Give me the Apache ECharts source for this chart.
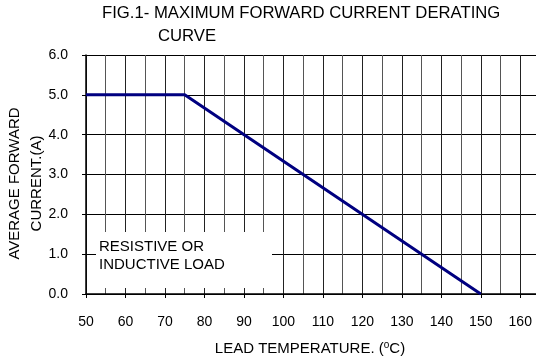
<!DOCTYPE html>
<html>
<head>
<meta charset="utf-8">
<script src="https://cdn.jsdelivr.net/npm/echarts@6/dist/echarts.min.js"></script>
<style>
html,body{margin:0;padding:0;background:#fff;}
#c{width:536px;height:363px;}
</style>
</head>
<body>
<div id="c"></div>
<script>
// Data
const temperature = [50, 75, 150];          // lead temperature (°C)
const current = [5.0, 5.0, 0.0];            // average forward current (A)
const yTickLabels = ['0.0','1.0','2.0','3.0','4.0','5.0','6.0'];
const titleLine1 = 'FIG.1- MAXIMUM FORWARD CURRENT DERATING';
const titleLine2 = 'CURVE';
const noteLines = ['RESISTIVE OR', 'INDUCTIVE LOAD'];

const FONT = '"Liberation Sans", Arial, sans-serif';
const chart = echarts.init(document.getElementById('c'), null, {renderer: 'canvas'});

const seriesData = temperature.map((t, i) => [t, current[i]]);

chart.setOption({
  animation: false,
  backgroundColor: '#ffffff',
  textStyle: {fontFamily: FONT},
  title: [
    {text: titleLine1, left: 102, top: 5, padding: 0,
     textStyle: {fontFamily: FONT, fontSize: 16.7, fontWeight: 'normal', color: '#000'}},
    {text: titleLine2, left: 158, top: 28, padding: 0,
     textStyle: {fontFamily: FONT, fontSize: 16.7, fontWeight: 'normal', color: '#000'}}
  ],
  grid: {left: 86, top: 55, right: -4, bottom: 69, containLabel: false, outerBoundsMode: 'none'},
  xAxis: {
    type: 'value', min: 50, max: 165, interval: 10,
    name: 'LEAD TEMPERATURE. ({sup|o}C)',
    nameLocation: 'middle', nameGap: 46, nameMoveOverlap: false,
    nameTextStyle: {fontFamily: FONT, fontSize: 15, color: '#000', padding: [0, 6, 0, 0],
      rich: {sup: {fontSize: 10, verticalAlign: 'top', padding: [0,0,7,0], fontFamily: FONT, color: '#000'}}},
    axisLine: {show: true, onZero: false, lineStyle: {color: '#000', width: 1.5}},
    axisTick: {show: true, inside: false, length: 4, lineStyle: {color: '#000'}},
    axisLabel: {fontFamily: FONT, fontSize: 14, color: '#000', margin: 21,
      showMaxLabel: false},
    splitLine: {show: true, lineStyle: {color: '#222', width: 1}},
    minorTick: {show: false, splitNumber: 2},
    minorSplitLine: {show: true, lineStyle: {color: '#555', width: 1}}
  },
  yAxis: {
    type: 'value', min: 0, max: 6, interval: 1,
    name: 'AVERAGE FORWARD\nCURRENT.(A)',
    nameLocation: 'middle', nameGap: 38, nameRotate: 90, nameMoveOverlap: false,
    nameTextStyle: {fontFamily: FONT, fontSize: 15, color: '#000', lineHeight: 22, align: 'center',
      padding: [0, 18, 0, 0]},
    axisLine: {show: true, lineStyle: {color: '#000', width: 1.5}},
    axisTick: {show: true, inside: false, length: 4, lineStyle: {color: '#000'}},
    axisLabel: {fontFamily: FONT, fontSize: 14, color: '#000', margin: 18,
      formatter: (v) => yTickLabels[Math.round(v)]},
    splitLine: {show: true, lineStyle: {color: '#000', width: 1}}
  },
  series: [{
    type: 'line', data: seriesData, showSymbol: false, symbol: 'none',
    lineStyle: {color: '#000080', width: 3}, z: 5
  }],
  graphic: [
    {type: 'rect', z: 10, silent: true,
     shape: {x: 96, y: 232, width: 176, height: 56},
     style: {fill: '#ffffff', lineWidth: 0}},
    {type: 'text', z: 11, silent: true, x: 99, y: 238,
     style: {text: noteLines.join('\n'), fontFamily: FONT, fontSize: 15, lineHeight: 18, fill: '#000'}}
  ]
});
</script>
</body>
</html>
